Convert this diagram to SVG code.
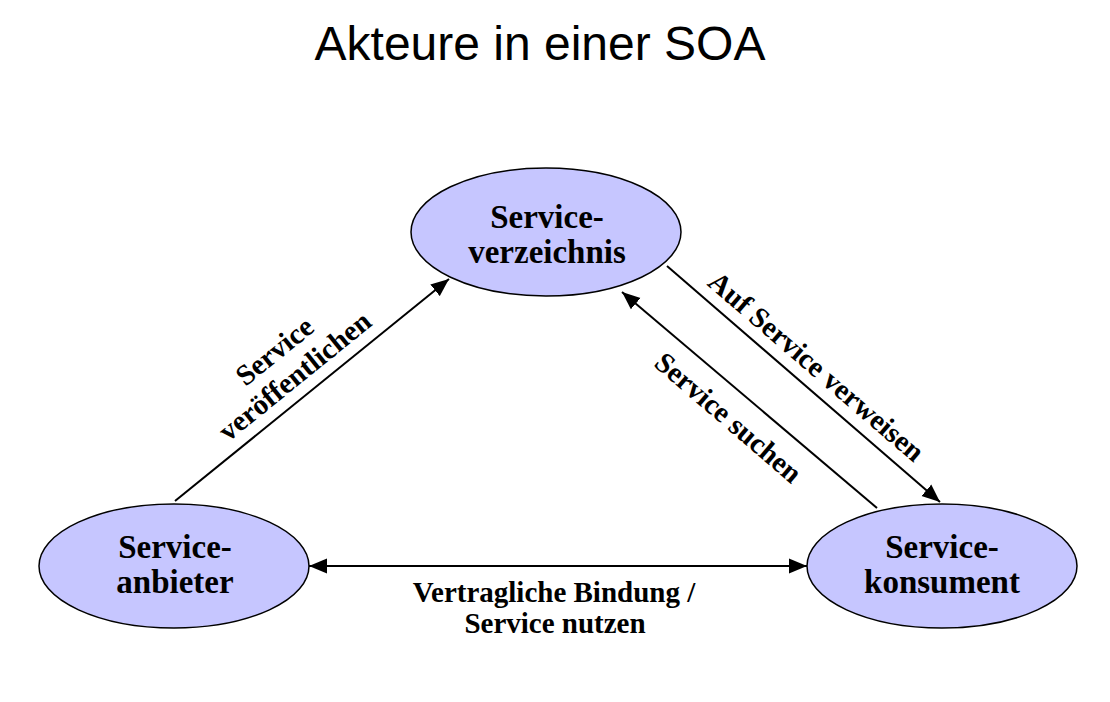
<svg xmlns="http://www.w3.org/2000/svg" width="1110" height="702" viewBox="0 0 1110 702">
<style>
.node ellipse{fill:#c6c6ff;stroke:#000;stroke-width:1.5}
.nl{font-family:"Liberation Serif","Times New Roman",serif;font-weight:bold;font-size:33px;text-anchor:middle;fill:#000}
.el{font-family:"Liberation Serif","Times New Roman",serif;font-weight:bold;font-size:29px;text-anchor:middle;fill:#000}
.title{font-family:"Liberation Sans",Arial,sans-serif;font-size:48px;text-anchor:middle;fill:#000}
.conn line{stroke:#000;stroke-width:2;fill:none}
</style>
<defs>
<marker id="ah" markerUnits="userSpaceOnUse" markerWidth="20" markerHeight="16" refX="18" refY="8" orient="auto-start-reverse" viewBox="0 0 20 16">
<path d="M0,0.5 L18,8 L0,15.5 z" fill="#000"/>
</marker>
</defs>
<rect width="1110" height="702" fill="#fff"/>
<text class="title" x="540" y="60">Akteure in einer SOA</text>
<g id="connectors" class="conn">
<line x1="175" y1="501" x2="449" y2="279" marker-end="url(#ah)"/>
<line x1="667" y1="266" x2="940" y2="502" marker-end="url(#ah)"/>
<line x1="877" y1="508" x2="622" y2="292" marker-end="url(#ah)"/>
<line x1="309" y1="566" x2="807" y2="566" marker-start="url(#ah)" marker-end="url(#ah)"/>
</g>
<g id="labels">
<g transform="translate(285,364) rotate(-39)">
<text class="el" x="0" y="-7">Service</text>
<text class="el" x="0" y="25">veröffentlichen</text>
</g>
<g transform="translate(816,367) rotate(40.7)">
<text class="el" x="0" y="9">Auf Service verweisen</text>
</g>
<g transform="translate(728,418) rotate(40.7)">
<text class="el" x="0" y="9">Service suchen</text>
</g>
<text class="el" x="554" y="602">Vertragliche Bindung /</text>
<text class="el" x="555" y="633">Service nutzen</text>
</g>
<g id="verzeichnis" class="node">
<ellipse cx="546" cy="232" rx="135" ry="64"/>
<text class="nl" x="547" y="228">Service-</text>
<text class="nl" x="547" y="263">verzeichnis</text>
</g>
<g id="anbieter" class="node">
<ellipse cx="174" cy="566" rx="135" ry="62"/>
<text class="nl" x="175" y="558">Service-</text>
<text class="nl" x="175" y="593">anbieter</text>
</g>
<g id="konsument" class="node">
<ellipse cx="942" cy="566" rx="135" ry="62"/>
<text class="nl" x="942" y="558">Service-</text>
<text class="nl" x="942" y="593">konsument</text>
</g>
</svg>
